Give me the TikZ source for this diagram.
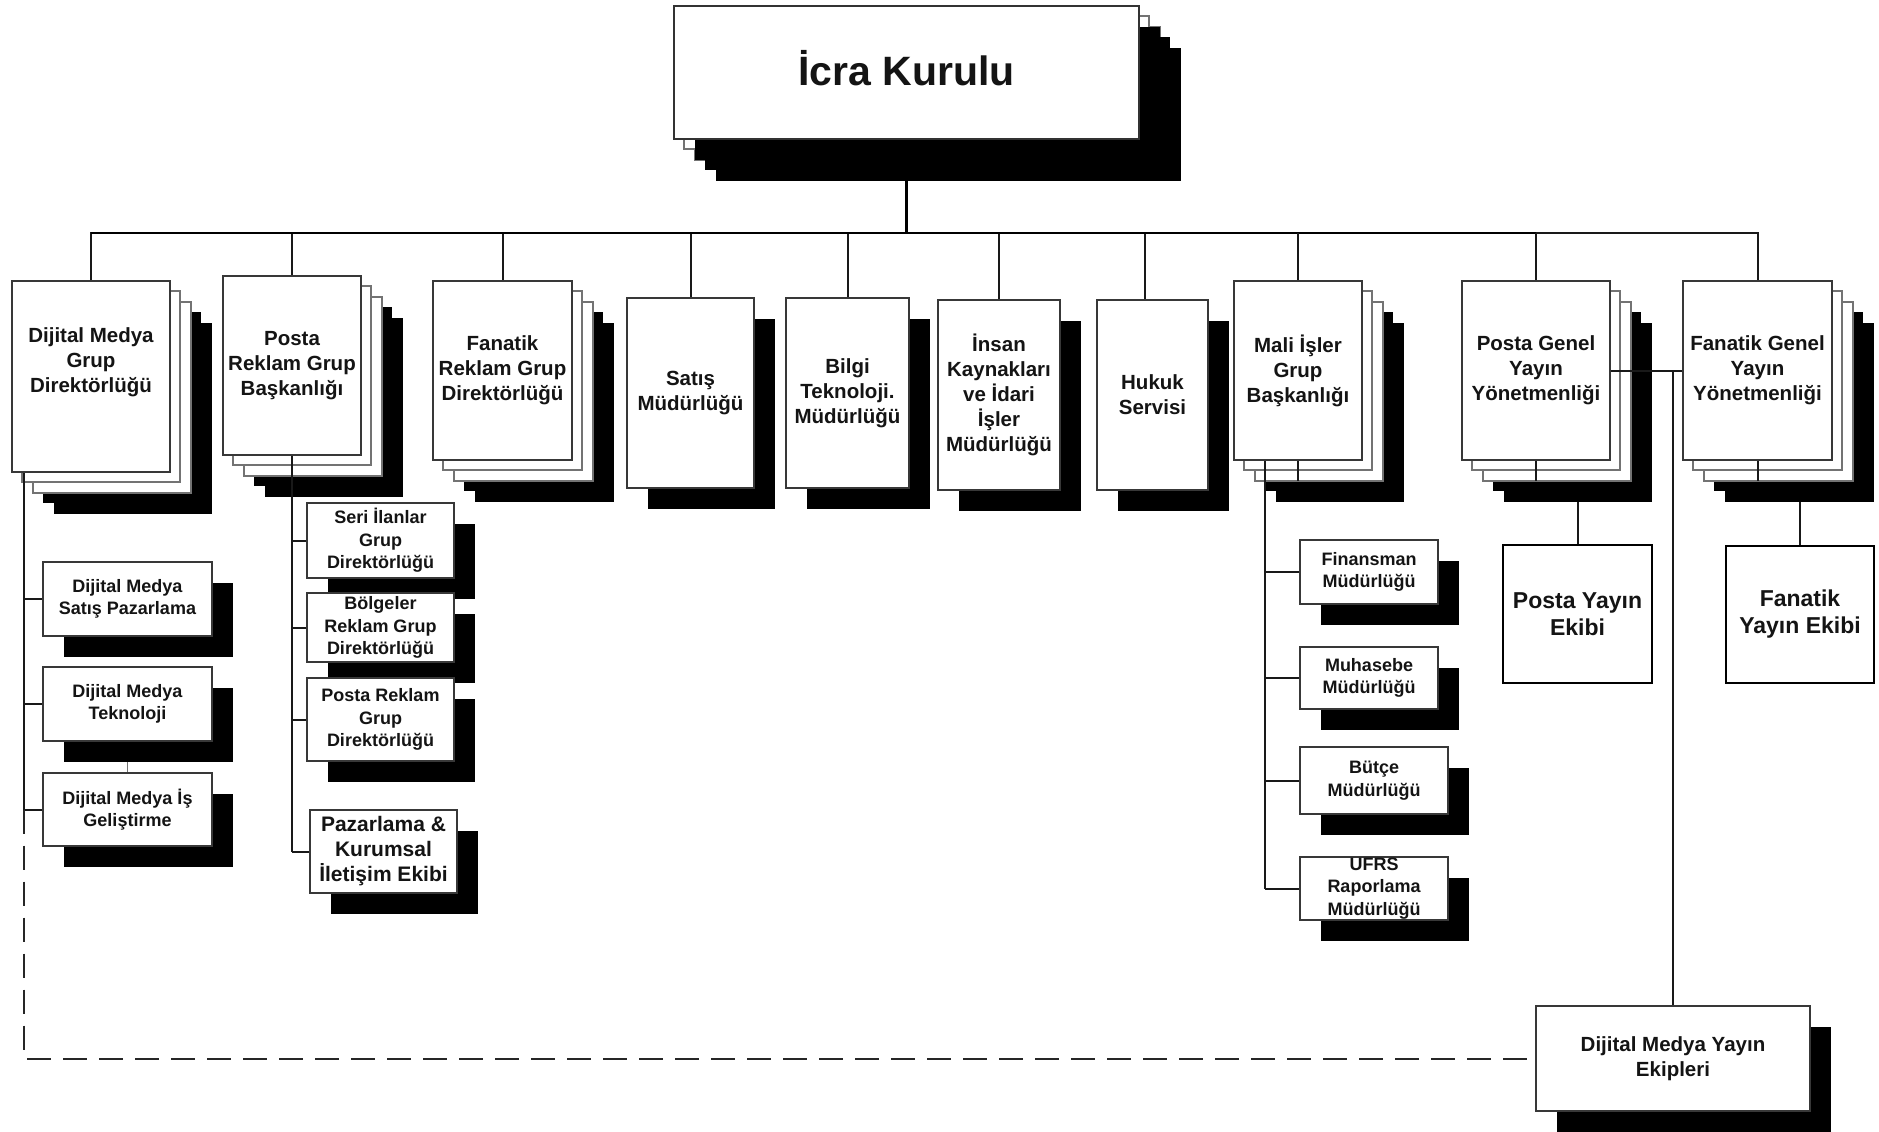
\documentclass[tikz,border=0pt]{standalone}
\usepackage{fontspec}
\setmainfont{Liberation Sans}
\pgfdeclarelayer{paper}
\pgfdeclarelayer{bg}
\pgfdeclarelayer{shad}
\pgfdeclarelayer{mid}
\pgfsetlayers{paper,bg,shad,mid,main}
\newcommand\fM{\bfseries\fontsize{20.5}{25}\selectfont}
\newcommand\fS{\bfseries\fontsize{18}{22.5}\selectfont}
\newcommand\fP{\bfseries\fontsize{21}{25}\selectfont}
\newcommand\fY{\bfseries\fontsize{23}{27}\selectfont}
\newcommand\fI{\bfseries\fontsize{41}{46}\selectfont}
\tikzset{
  box/.style={draw=black!78, line width=1.8pt, fill=white, inner sep=0pt, outer sep=0pt, align=center, font=\fM, text=black!92},
  lbl/.style={align=center, text=black!92, inner sep=0pt},
  stacklayer/.style={draw=black!55, line width=1.6pt, fill=white},
  conn/.style={line width=2pt, black!90},
  thinconn/.style={line width=1.4pt, black!55},
  spine/.style={line width=2.5pt, black!90},
  mainline/.style={line width=2.8pt, black},
  dashline/.style={line width=2pt, black!85, dash pattern=on 24pt off 12pt},
}
\newcommand\bx[7][]{\node[box,#1,minimum width={(#5-#3)*1pt},minimum height={(#6-#4)*1pt}] (#2) at ({(#3+#5)/2},{(#4+#6)/2}) {#7};}
\newcommand\shd[2]{\fill[black] ([shift={(#2,#2)}]#1.north west) rectangle ([shift={(#2,#2)}]#1.south east);}
\newcommand\lyr[2]{\draw[stacklayer] ([shift={(#2,#2)}]#1.north west) rectangle ([shift={(#2,#2)}]#1.south east);}
\newcommand\stk[1]{\shd{#1}{31}\shd{#1}{42}\lyr{#1}{21}\lyr{#1}{10}}
\begin{document}
\begin{tikzpicture}[x=1pt,y=-1pt]
\useasboundingbox (0,0) rectangle (1879,1132);
\begin{pgfonlayer}{paper}
\fill[white] (0,0) rectangle (1879,1132);
\end{pgfonlayer}

% ---- front boxes ----
\bx[draw=black!80]{icra}{674}{6}{1139}{139}{}
\node[lbl,font=\fI] (icralbl) at ([yshift=4pt]icra.center) {İcra Kurulu};
\bx{dm}{12}{281}{170}{472}{}
\node[lbl,font=\fM] (dmlbl) at ([yshift=14pt]dm.center) {Dijital Medya\\Grup\\Direktörlüğü};
\bx{prg}{223}{276}{361}{455}{Posta\\Reklam Grup\\Başkanlığı}
\bx{frg}{433}{281}{572}{460}{Fanatik\\Reklam Grup\\Direktörlüğü}
\bx{satis}{627}{298}{754}{488}{Satış\\Müdürlüğü}
\bx{bilgi}{786}{298}{909}{488}{Bilgi\\Teknoloji.\\Müdürlüğü}
\bx{insan}{938}{300}{1060}{490}{İnsan\\Kaynakları\\ve İdari\\İşler\\Müdürlüğü}
\bx{hukuk}{1097}{300}{1208}{490}{Hukuk\\Servisi}
\bx{mali}{1234}{281}{1362}{460}{Mali İşler\\Grup\\Başkanlığı}
\bx{pg}{1462}{281}{1610}{460}{Posta Genel\\Yayın\\Yönetmenliği}
\bx{fg}{1683}{281}{1832}{460}{Fanatik Genel\\Yayın\\Yönetmenliği}

\bx[font=\fS]{dms}{43}{562}{212}{636}{Dijital Medya\\Satış Pazarlama}
\bx[font=\fS]{dmt}{43}{667}{212}{741}{Dijital Medya\\Teknoloji}
\bx[font=\fS]{dmi}{43}{773}{212}{846}{Dijital Medya İş\\Geliştirme}
\bx[font=\fS]{seri}{307}{503}{454}{578}{Seri İlanlar\\Grup\\Direktörlüğü}
\bx[font=\fS]{bolg}{307}{593}{454}{662}{Bölgeler\\Reklam Grup\\Direktörlüğü}
\bx[font=\fS]{prgd}{307}{678}{454}{761}{Posta Reklam\\Grup\\Direktörlüğü}
\bx[font=\fP]{paz}{310}{810}{457}{893}{Pazarlama \&\\Kurumsal\\İletişim Ekibi}
\bx[font=\fS]{fin}{1300}{540}{1438}{604}{Finansman\\Müdürlüğü}
\bx[font=\fS]{muh}{1300}{647}{1438}{709}{Muhasebe\\Müdürlüğü}
\bx[font=\fS]{butce}{1300}{747}{1448}{814}{Bütçe\\Müdürlüğü}
\bx[font=\fS]{ufrs}{1300}{857}{1448}{920}{UFRS\\Raporlama\\Müdürlüğü}
\bx{dmye}{1536}{1006}{1810}{1111}{Dijital Medya Yayın\\Ekipleri}
\bx[font=\fY,draw=black,line width=2.8pt]{pye}{1503}{545}{1652}{683}{Posta Yayın\\Ekibi}
\bx[font=\fY,draw=black,line width=2.8pt]{fye}{1726}{546}{1874}{683}{Fanatik\\Yayın Ekibi}

% ---- shadows and stacked sheets ----
\begin{pgfonlayer}{shad}
\shd{icra}{42}\lyr{icra}{21}\shd{icra}{31}\lyr{icra}{10}\shd{icra}{21}
\stk{dm}\stk{prg}\stk{frg}\stk{mali}\stk{pg}\stk{fg}
\foreach \n in {satis,bilgi,insan,hukuk,dms,dmt,dmi,seri,bolg,prgd,paz,fin,muh,butce,ufrs,dmye} {\shd{\n}{21}}
\end{pgfonlayer}

% ---- connectors behind shadows ----
\begin{pgfonlayer}{bg}
\coordinate (busy) at (0,233);
\draw[mainline] (icra.south) -- (icra.south |- busy);
\foreach \n in {dm,prg,frg,satis,bilgi,insan,mali,pg,fg}
  {\draw[conn] (icra.south |- busy) -| (\n.north);}
\draw[conn] (icra.south |- busy) -| ([xshift=-8pt]hukuk.north);
\draw[mainline] (dm.north |- busy) -- (pg.north |- busy);
\draw[conn] (pye.north) -- (pye.north |- pg.south);
\draw[conn] (fye.north) -- (fye.north |- fg.south);
\draw[thinconn] (dmt.south) -- (dmi.north);
\end{pgfonlayer}

% ---- connectors over the stacked sheets ----
\begin{pgfonlayer}{mid}
\foreach \n in {mali,pg,fg}
  {\draw[conn] (\n.north |- busy) -- ([yshift=-21pt]\n.south);}
% Dijital Medya Grup
\coordinate (dmsp) at ([xshift=12pt]dm.south west);
\draw[spine] (dmsp) -- (dmsp |- dmi.west);
\foreach \n in {dms,dmt,dmi} {\draw[conn] (dmsp |- \n.west) -- (\n.west);}
\draw[dashline] (dmsp |- dmi.west) -- (dmsp |- dmye.west) -- (dmye.west);
% Posta Reklam
\draw[spine] (prg.south) -- (prg.south |- paz.west);
\foreach \n in {seri,bolg,prgd,paz} {\draw[conn] (prg.south |- \n.west) -- (\n.west);}
% Mali Isler
\coordinate (masp) at ([xshift=31pt]mali.south west);
\draw[conn] (masp) -- (masp |- ufrs.west);
\foreach \n in {fin,muh,butce,ufrs} {\draw[conn] (masp |- \n.west) -- (\n.west);}
% Genel Yayin
\draw[conn] (pg.east) -- (fg.west);
\draw[conn] (dmye.north) -- (dmye.north |- pg.east);
\end{pgfonlayer}
\end{tikzpicture}
\end{document}
